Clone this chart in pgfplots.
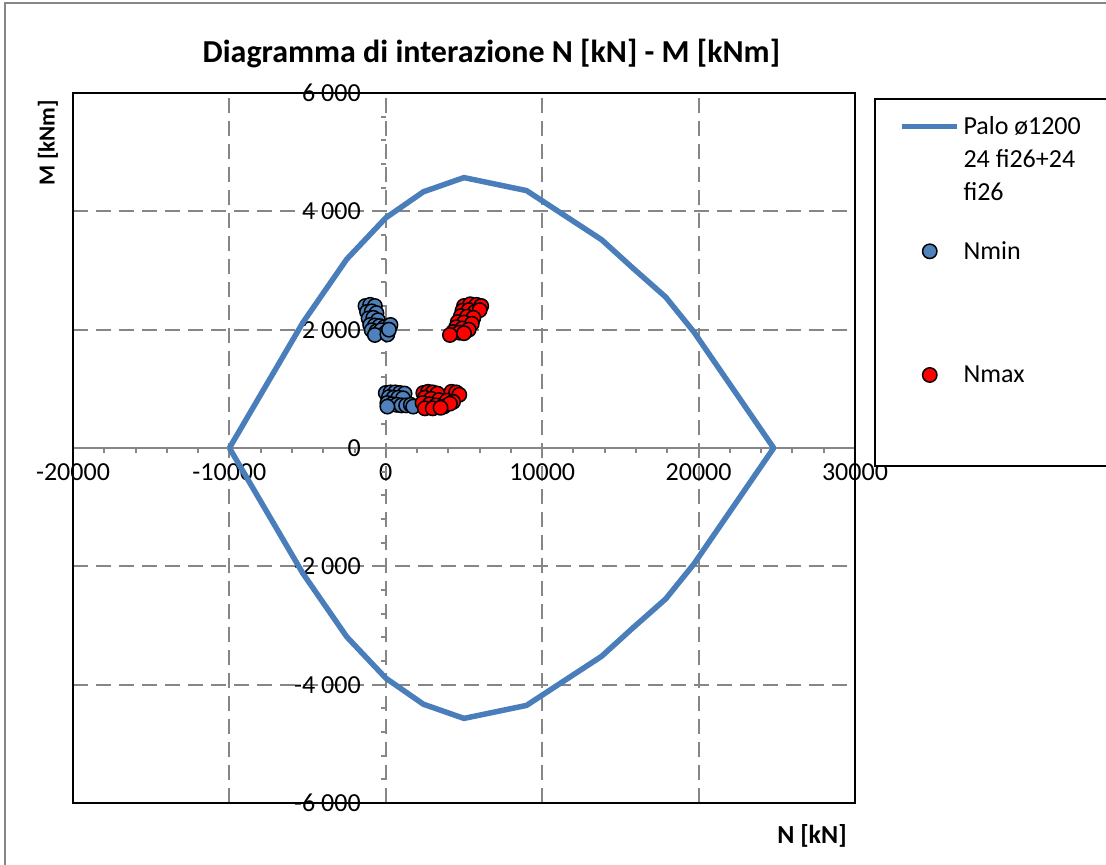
\documentclass[border=0pt]{standalone}
\usepackage{fontspec}
\setmainfont{Carlito}
\usepackage{pgfplots}
\pgfplotsset{compat=1.18}
\definecolor{palo}{HTML}{4A7EBB}
\definecolor{nminc}{HTML}{4F81BD}
\definecolor{nmaxc}{HTML}{FF0000}
\definecolor{gridc}{HTML}{868686}
\begin{document}
\begin{tikzpicture}
\begin{axis}[
  scale only axis, width=391pt, height=355pt,
  at={(0,0)}, anchor=south west,
  xmin=-20000, xmax=30000, ymin=-6000, ymax=6000,
  clip=false,
  scaled ticks=false,
  axis lines=middle,
  axis line style={-},
  x axis line style={gridc, line width=1pt},
  y axis line style={draw=none},
  hide obscured x ticks=false, hide obscured y ticks=false,
  xtick={-20000,-10000,0,10000,20000,30000},
  xticklabels={-20000,-10000,0,10000,20000,30000},
  ytick={-6000,-4000,-2000,0,2000,4000,6000},
  yticklabels={-6~000,-4~000,-2~000,0,2~000,4~000,6~000},
  major tick length=0pt,
  grid=major,
  major grid style={gridc, line width=1pt, dash pattern=on 7.5pt off 4pt},
  tick label style={font=\fontsize{13}{15}\selectfont, black},
  xticklabel style={anchor=north, yshift=-4.5pt},
  yticklabel style={anchor=east, xshift=-9pt},
  every axis title/.style={at={(axis description cs:0.535,1.055)}, anchor=center, font=\bfseries\fontsize{16}{19}\selectfont},
  title={Diagramma di interazione N [kN] - M [kNm]},
  every axis x label/.style={at={(axis description cs:0.945,-0.046)}, anchor=center, font=\bfseries\fontsize{13}{15}\selectfont},
  every axis y label/.style={at={(axis description cs:-0.032,0.93)}, rotate=90, anchor=center, font=\bfseries\fontsize{11.5}{14}\selectfont},
  xlabel={N [kN]},
  ylabel={M [kNm]},
  legend style={
    at={(axis description cs:1.0243,0.993)}, anchor=north west,
    draw=black, line width=1pt, fill=white,
    inner xsep=12pt, inner ysep=8.7pt,
    row sep=18.5pt, column sep=2pt,
    cells={anchor=base west},
    font=\fontsize{13}{16.5}\selectfont,
    nodes={inner sep=0pt, text depth=},
  },
]
\draw[black, line width=1.2pt] (rel axis cs:0,0) rectangle (rel axis cs:1,1);
\pgfplotsinvokeforeach{-18000,-16000,-14000,-12000,-10000,-8000,-6000,-4000,-2000,0,2000,4000,6000,8000,10000,12000,14000,16000,18000,20000,22000,24000,26000,28000}{
  \draw[gridc, line width=1pt] (axis cs:#1,0) -- ++(0pt,-2.5pt);
}
\pgfplotsinvokeforeach{-5600,-5200,-4800,-4400,-4000,-3600,-3200,-2800,-2400,-2000,-1600,-1200,-800,-400,400,800,1200,1600,2000,2400,2800,3200,3600,4000,4400,4800,5200,5600}{
  \draw[gridc, line width=1pt] (axis cs:0,#1) -- ++(-2.5pt,0pt);
}
\addplot[palo, line width=2.75pt, line join=round,
  legend image code/.code={\draw[palo, line width=2.75pt] (0pt,4pt) -- (27.5pt,4pt);}]
table {
N M
-10000 0
-5300 2120
-2500 3190
0 3890
2400 4330
5000 4570
9000 4350
13800 3520
15800 3040
17900 2550
19700 1960
24800 0
19700 -1960
17900 -2550
15800 -3040
13800 -3520
9000 -4350
5000 -4570
2400 -4330
0 -3890
-2500 -3190
-5300 -2120
-10000 0
};
\addlegendentry{\parbox[t]{61pt}{\raggedright Palo ø1200\\24 fi26+24\\fi26}\rule[-35pt]{0pt}{0pt}}
\addplot[only marks, mark=*, mark size=3.6pt, mark options={fill=nminc, draw=black, line width=0.75pt},
  legend image code/.code={\draw[only marks, mark=*, mark size=3.6pt, mark options={fill=nminc, draw=black, line width=0.75pt}] plot coordinates {(14pt,4pt)};}]
table {
N M
-1300 2400
-1000 2420
-700 2400
-1200 2300
-900 2310
-600 2280
-1100 2190
-800 2200
-500 2160
-1000 2080
-700 2070
-400 2060
-100 2040
300 2080
-900 1990
-600 1970
-300 1990
0 1950
-700 1910
100 1920
200 2000
0 930
300 940
600 940
900 930
1200 920
200 860
500 850
800 850
1100 840
100 760
400 740
700 730
1000 720
1300 720
1600 730
1750 700
100 700
};
\addlegendentry{Nmin\rule[-35pt]{0pt}{0pt}}
\addplot[only marks, mark=*, mark size=3.6pt, mark options={fill=nmaxc, draw=black, line width=0.75pt},
  legend image code/.code={\draw[only marks, mark=*, mark size=3.6pt, mark options={fill=nmaxc, draw=black, line width=0.75pt}] plot coordinates {(14pt,4pt)};}]
table {
N M
5000 2400
5400 2430
5800 2420
6100 2400
4900 2320
5300 2330
5700 2300
6000 2330
4800 2230
5200 2220
5600 2200
4600 2130
5000 2120
5500 2100
4500 2040
4900 2020
5300 2000
4300 1960
4700 1950
4100 1910
5000 1940
2400 930
2700 950
3000 940
3300 920
4200 950
4500 940
4700 900
2500 850
2900 830
3400 810
3900 800
4300 780
2350 760
2800 740
3200 720
3700 700
4100 750
2500 670
3000 670
3500 680
};
\addlegendentry{Nmax\rule[-33pt]{0pt}{0pt}}
\end{axis}
\draw[gridc, line width=1pt] (-34pt,-40pt) -- (-34pt,400pt) -- (530pt,400pt);
\pgfresetboundingbox
\useasboundingbox (-36.5pt,-30.5pt) rectangle (516.5pt,401.5pt);
\end{tikzpicture}
\end{document}
